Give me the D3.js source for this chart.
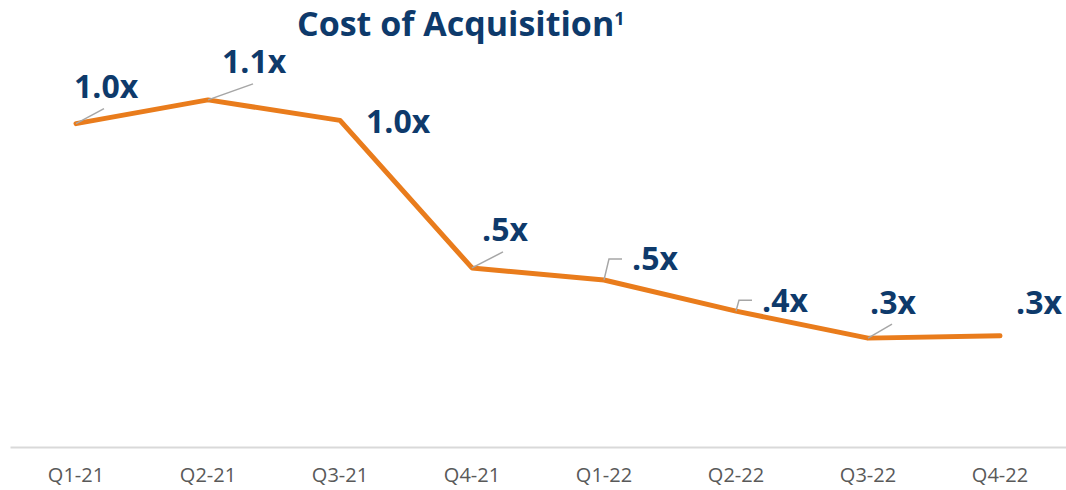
<!DOCTYPE html>
<html lang="en">
<head>
  <meta charset="UTF-8">
  <title>Cost of Acquisition</title>
  <script src="https://d3js.org/d3.v7.min.js"></script>
  <style>
    body {
      margin: 0;
      background: #fff;
      font-family: "Open Sans", Arial, sans-serif;
    }
    .val {
      font-weight: bold;
      font-size: 32px;
      fill: #0e3a6b;
    }
  </style>
</head>
<body>
  <div id="chart"></div>

  <script>
    // Data
    const quarters = ["Q1-21", "Q2-21", "Q3-21", "Q4-21", "Q1-22", "Q2-22", "Q3-22", "Q4-22"];
    const costValues = [0.995, 1.068, 1.005, 0.551, 0.514, 0.418, 0.335, 0.342];
    const valueLabels = ["1.0x", "1.1x", "1.0x", ".5x", ".5x", ".4x", ".3x", ".3x"];

    // label placement (offset from point), leader line points
    const labelOffsets = [
      {dx: -2, dy: -26, leader: [[28, -15]]},
      {dx: 14, dy: -27, leader: [[45, -16]]},
      {dx: 26, dy: 13, leader: null},
      {dx: 10, dy: -27, leader: [[31, -16]]},
      {dx: 28, dy: -10, leader: [[5, -21], [18, -21]]},
      {dx: 26, dy: 1, leader: [[3, -11], [16, -11]]},
      {dx: 2, dy: -24, leader: [[24, -14]]},
      {dx: 16, dy: -22, leader: null}
    ];

    const width = 1066, height = 490;

    const svg = d3.select("#chart")
                  .append("svg")
                  .attr("width", width)
                  .attr("height", height);

    const x = d3.scaleBand()
                .domain(quarters)
                .range([10, 1066])
                .padding(0);

    const y = d3.scaleLinear()
                .domain([0, 1.2])
                .range([447, 57]);

    // Title
    const title = svg.append("text")
       .attr("x", 297)
       .attr("y", 36)
       .style("font-size", "34px")
       .style("font-weight", "bold")
       .style("fill", "#0e3a6b")
       .text("Cost of Acquisition");
    title.append("tspan")
       .attr("dy", -11)
       .style("font-size", "18px")
       .text("1");

    // x axis
    const xAxis = d3.axisBottom(x).tickSize(0).tickPadding(21);
    const gx = svg.append("g")
       .attr("transform", "translate(0,447)")
       .call(xAxis);
    gx.select(".domain").attr("stroke", "#d9d9d9").attr("stroke-width", 2);
    gx.selectAll("text")
      .attr("dy", "0.71em")
      .style("font-family", "'Open Sans', Arial, sans-serif")
      .style("font-size", "20px")
      .style("fill", "#595959");

    const cx = i => x(quarters[i]) + x.bandwidth() / 2;

    // line
    const line = d3.line()
                   .x((d, i) => cx(i))
                   .y(d => y(d));

    svg.append("path")
       .datum(costValues)
       .attr("fill", "none")
       .attr("stroke", "#e97c1c")
       .attr("stroke-width", 5)
       .attr("stroke-linecap", "round")
       .attr("stroke-linejoin", "round")
       .attr("d", line);

    // leader lines
    costValues.forEach((v, i) => {
      const o = labelOffsets[i];
      if (!o.leader) return;
      const px = cx(i), py = y(v);
      const pts = [[px, py]].concat(o.leader.map(p => [px + p[0], py + p[1]]));
      svg.append("path")
         .attr("d", d3.line()(pts))
         .attr("fill", "none")
         .attr("stroke", "#a6a6a6")
         .attr("stroke-width", 1.5);
    });

    // value labels
    svg.selectAll(".val")
       .data(costValues)
       .enter()
       .append("text")
       .attr("class", "val")
       .attr("x", (d, i) => cx(i) + labelOffsets[i].dx)
       .attr("y", (d, i) => y(d) + labelOffsets[i].dy)
       .text((d, i) => valueLabels[i]);
  </script>
</body>
</html>
